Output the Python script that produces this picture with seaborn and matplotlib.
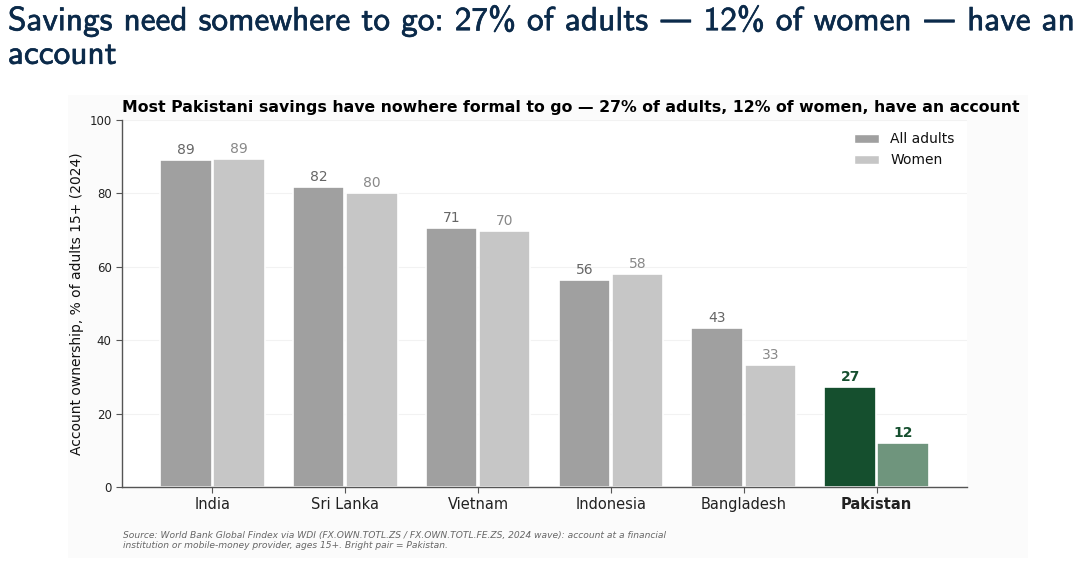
import pandas as pd
import matplotlib.pyplot as plt
import matplotlib.patheffects as pe
import seaborn as sns
from matplotlib.patches import Rectangle, Patch

# data
countries = ["India", "Sri Lanka", "Vietnam", "Indonesia", "Bangladesh", "Pakistan"]
all_adults = [89.1, 81.7, 70.6, 56.4, 43.3, 27.2]
women = [89.4, 80.1, 69.8, 58.0, 33.2, 12.0]
groups = ["All adults", "Women"]

df = pd.DataFrame({
    "country": countries * 2,
    "value": all_adults + women,
    "group": [groups[0]] * len(countries) + [groups[1]] * len(countries),
})

sns.set_style("white")
plt.rcParams["font.family"] = ["DejaVu Sans"]
plt.rcParams["text.color"] = "#111111"
plt.rcParams["axes.labelcolor"] = "#111111"
plt.rcParams["xtick.color"] = "#222222"
plt.rcParams["ytick.color"] = "#222222"

fig = plt.figure(figsize=(10.9, 5.71), dpi=100)
fig.patches.append(Rectangle((68 / 1090, 1 - 558 / 571), 960 / 1090, 463 / 571,
                             transform=fig.transFigure, facecolor="#fbfbfb",
                             edgecolor="none", zorder=-10))
ax = fig.add_axes([122 / 1090, 1 - 487 / 571, 845 / 1090, 367 / 571])

sns.barplot(data=df, x="country", y="value", hue="group",
            palette=["#a0a0a0", "#c6c6c6"], edgecolor="white", linewidth=1.2,
            width=0.8, gap=0.03, ax=ax, legend=False)

# recolour the Pakistan pair and add value labels
n = len(countries)
for i, p in enumerate(ax.patches[:2 * n]):
    k = i % n
    is_women = i >= n
    val = women[k] if is_women else all_adults[k]
    x = p.get_x() + p.get_width() / 2
    if countries[k] == "Pakistan":
        p.set_facecolor("#6f957d" if is_women else "#154f2e")
        ax.text(x, val + 0.9, f"{val:.0f}", ha="center", va="bottom",
                fontsize=10, fontweight="bold", color="#154f2e")
    else:
        ax.text(x, val + 0.9, f"{val:.0f}", ha="center", va="bottom",
                fontsize=10, color="#888888" if is_women else "#666666")

ax.set_facecolor("white")
ax.set_ylim(0, 100)
ax.set_xlim(-0.68, 5.68)
ax.set_yticks([0, 20, 40, 60, 80, 100])
ax.yaxis.grid(True, color="#f2f2f2", linewidth=0.8)
ax.set_axisbelow(True)
for s in ["top", "right"]:
    ax.spines[s].set_visible(False)
for s in ["left", "bottom"]:
    ax.spines[s].set_color("#555555")
    ax.spines[s].set_linewidth(1.0)
ax.tick_params(axis="y", labelsize=8.5, length=4, color="#555555", left=True)
ax.tick_params(axis="x", labelsize=10.5, length=4, color="#555555", bottom=True)
ax.set_xlabel("")
ax.set_ylabel("Account ownership, % of adults 15+ (2024)", fontsize=10)
for lab in ax.get_xticklabels():
    if lab.get_text() == "Pakistan":
        lab.set_fontweight("bold")

ax.legend(handles=[Patch(facecolor="#a0a0a0", label="All adults"),
                   Patch(facecolor="#c6c6c6", label="Women")],
          loc="upper right", frameon=False, fontsize=10,
          handlelength=1.8, handleheight=0.7, bbox_to_anchor=(1.0, 1.0))

ax.set_title("Most Pakistani savings have nowhere formal to go \u2014 27% of adults, "
             "12% of women, have an account", fontsize=11.3, fontweight="bold",
             loc="left", pad=6, color="black")

fig.text(123 / 1090, 1 - 531 / 571,
         "Source: World Bank Global Findex via WDI (FX.OWN.TOTL.ZS / FX.OWN.TOTL.FE.ZS, "
         "2024 wave): account at a financial\ninstitution or mobile-money provider, "
         "ages 15+. Bright pair = Pakistan.",
         fontsize=6.6, style="italic", color="#666666", va="top", linespacing=1.15)

fig.text(8 / 1090, 1 - 6 / 571,
         "Savings need somewhere to go: 27% of adults \u2014 12% of women \u2014 have an\naccount",
         fontsize=24, color="#0b2a4a", va="top", linespacing=1.2,
         family=["cmss10", "DejaVu Sans"],
         path_effects=[pe.withStroke(linewidth=0.45, foreground="#0b2a4a")])

fig.savefig("out.png", dpi=100)
